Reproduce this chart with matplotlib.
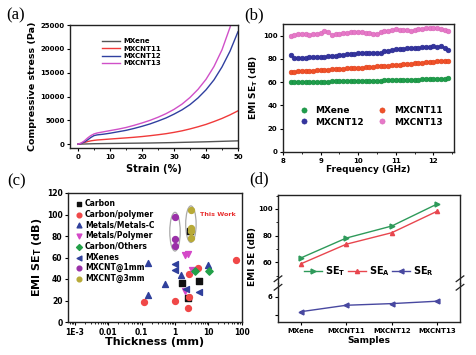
import numpy as np
import matplotlib
matplotlib.use('Agg')
import matplotlib.pyplot as plt
from matplotlib.patches import Ellipse

plt.rcParams['font.family'] = ['DejaVu Sans']
plt.rcParams['font.weight'] = 'bold'
plt.rcParams['axes.linewidth'] = 1.0
plt.rcParams['axes.edgecolor'] = '#222222'

# ---------------- data (a) ----------------
strain = [0, 1, 2, 3, 4, 5, 6, 8, 10, 12.5, 15, 17.5, 20, 22.5, 25, 27.5, 30, 32.5, 35, 37.5, 40, 42.5, 45, 47.5, 50]
mxene_a = [0, 20, 40, 60, 80, 100, 110, 130, 150, 170, 190, 210, 230, 250, 280, 310, 340, 380, 420, 460, 500, 550, 600, 650, 700]
mxcnt11_a = [0, 150, 350, 550, 700, 800, 880, 980, 1080, 1200, 1320, 1450, 1600, 1780, 1980, 2200, 2480, 2800, 3200, 3650, 4150, 4750, 5400, 6150, 7000]
mxcnt12_a = [0, 150, 450, 900, 1400, 1800, 1950, 2100, 2300, 2600, 2900, 3300, 3750, 4250, 4850, 5500, 6300, 7200, 8300, 9700, 11400, 13500, 16200, 19500, 23600]
mxcnt13_a = [0, 250, 700, 1300, 1800, 2150, 2350, 2600, 2850, 3150, 3500, 3950, 4450, 5000, 5650, 6400, 7300, 8400, 9800, 11500, 13600, 16300, 19800, 24500, 30000]

# ---------------- data (b) ----------------
freq = [8.2, 8.3, 8.4, 8.5, 8.6, 8.7, 8.8, 8.9, 9.0, 9.1, 9.2, 9.3, 9.4, 9.5, 9.6, 9.7, 9.8, 9.9, 10.0, 10.1, 10.2,
        10.3, 10.4, 10.5, 10.6, 10.7, 10.8, 10.9, 11.0, 11.1, 11.2, 11.3, 11.4, 11.5, 11.6, 11.7, 11.8, 11.9, 12.0,
        12.1, 12.2, 12.3, 12.4]
mxene_b = [59.8, 59.9, 60.0, 60.0, 60.1, 60.2, 60.2, 60.3, 60.4, 60.4, 60.5, 60.6, 60.6, 60.7, 60.8, 60.8, 60.9, 61.0,
           61.0, 61.1, 61.2, 61.2, 61.3, 61.4, 61.4, 61.5, 61.6, 61.7, 61.7, 61.8, 61.9, 62.0, 62.1, 62.2, 62.3, 62.4,
           62.5, 62.6, 62.7, 62.8, 63.0, 63.1, 63.3]
mxcnt11_b = [68.8, 69.0, 69.2, 69.4, 69.6, 69.8, 70.0, 70.2, 70.4, 70.6, 70.8, 71.0, 71.2, 71.4, 71.6, 71.8, 72.0, 72.2,
             72.4, 72.6, 72.8, 73.0, 73.2, 73.5, 73.8, 74.0, 74.3, 74.5, 74.8, 75.0, 75.3, 75.6, 75.9, 76.2, 76.5,
             76.8, 77.1, 77.3, 77.6, 77.8, 78.0, 78.2, 78.5]
mxcnt12_b = [83.5, 81.0, 80.8, 81.2, 81.0, 81.5, 81.8, 81.5, 82.0, 81.8, 82.2, 82.5, 82.8, 83.0, 83.2, 83.8, 84.2, 84.5,
             85.0, 85.3, 85.5, 85.0, 85.2, 84.8, 85.5, 86.5, 87.2, 87.8, 88.2, 88.5, 88.8, 89.2, 89.0, 89.5, 89.8,
             90.0, 90.2, 90.5, 91.5, 90.5, 91.0, 89.5, 87.5]
mxcnt13_b = [100.0, 100.8, 101.5, 101.8, 101.0, 100.5, 101.2, 101.8, 102.5, 104.0, 103.0, 100.5, 101.0, 101.8, 102.0,
             102.5, 103.0, 103.5, 103.2, 102.8, 102.5, 102.0, 101.5, 101.2, 103.0, 103.8, 104.2, 104.8, 105.5, 105.0,
             104.8, 104.5, 104.0, 104.5, 105.5, 105.8, 106.2, 106.5, 106.5, 106.2, 105.8, 105.0, 104.0]

# ---------------- data (c) ----------------
carbon_t = [2.8, 1.6, 5.1, 2.5]
carbon_se = [85, 36, 38, 22]
cpoly_t = [0.12, 1.0, 2.4, 2.6, 2.6, 4.8, 66]
cpoly_se = [18.5, 20, 13, 23, 45, 50, 57.7]
metal_t = [0.15, 0.15, 0.5, 1.5, 10]
metal_se = [55, 25.5, 35, 44, 52.7]
mpoly_t = [2.0, 2.4, 2.0, 3.2]
mpoly_se = [62, 63.6, 29, 48]
cothers_t = [4.1, 10.5]
cothers_se = [47, 47]
mxenes_t = [1.0, 1.0, 2.1, 5.1]
mxenes_se = [54, 48.5, 31, 27.6]
mx1_t = [1.0, 1.0, 1.0]
mx1_se = [97.5, 76.8, 70.8]
mx3_t = [3.0, 3.0, 3.0, 3.0]
mx3_se = [104.5, 87, 85, 78.5]

# ---------------- data (d) ----------------
samples = ['MXene', 'MXCNT11', 'MXCNT12', 'MXCNT13']
se_t = [63.3, 78.2, 87.2, 103.7]
se_a = [58.9, 73.6, 82.2, 98.3]
se_r = [5.2, 5.55, 5.64, 5.77]

W, H = 476, 355
fig = plt.figure(figsize=(W / 100, H / 100), dpi=100)


def box(l, t, r, b):
    return [l / W, 1 - b / H, (r - l) / W, (b - t) / H]


def style(ax, size=5):
    ax.tick_params(labelsize=size, width=0.8, length=2.5, pad=1.5)
    ax.tick_params(which='minor', width=0.6, length=1.5)
    for lab in ax.get_xticklabels() + ax.get_yticklabels():
        lab.set_fontweight('bold')


plab = dict(fontsize=12, family='Liberation Serif', fontweight='normal', va='top')

# ---------------- (a) ----------------
ax1 = fig.add_axes(box(70, 25, 238, 148))
ax1.plot(strain, mxene_a, color='#555555', lw=1.0, label='MXene')
ax1.plot(strain, mxcnt11_a, color='#f03a3a', lw=1.0, label='MXCNT11')
ax1.plot(strain, mxcnt12_a, color='#3040a0', lw=1.0, label='MXCNT12')
ax1.plot(strain, mxcnt13_a, color='#d050c8', lw=1.0, label='MXCNT13')
ax1.set_xlim(-2.5, 50)
ax1.set_ylim(-800, 25000)
ax1.set_xticks([0, 10, 20, 30, 40, 50])
ax1.set_xticks([5, 15, 25, 35, 45], minor=True)
ax1.set_yticks([0, 5000, 10000, 15000, 20000, 25000])
ax1.set_xlabel('Strain (%)', fontsize=7, fontweight='bold', labelpad=3)
ax1.set_ylabel('Compressive stress (Pa)', fontsize=6.8, fontweight='bold', labelpad=2)
style(ax1)
leg = ax1.legend(loc='upper left', bbox_to_anchor=(0.17, 0.92), frameon=False, fontsize=5,
                 handlelength=2.6, handletextpad=0.5, labelspacing=0.2, borderpad=0)
for t in leg.get_texts():
    t.set_fontweight('bold')
fig.text(6 / W, 1 - 7 / H, '(a)', **plab)

# ---------------- (b) ----------------
ax2 = fig.add_axes(box(283, 24, 454, 152))
ms = 3.4
p1, = ax2.plot(freq, mxene_b, 'o', color='#1f9e4c', ms=ms, mec='#138a3a', mew=0.4, label='MXene')
p2, = ax2.plot(freq, mxcnt11_b, 'o', color='#f0522a', ms=ms, mec='#e0401a', mew=0.4, label='MXCNT11')
p3, = ax2.plot(freq, mxcnt12_b, 'o', color='#35359e', ms=ms, mec='#25258e', mew=0.4, label='MXCNT12')
p4, = ax2.plot(freq, mxcnt13_b, 'o', color='#e678c8', ms=ms, mec='#d868b8', mew=0.4, label='MXCNT13')
ax2.set_xlim(8, 12.55)
ax2.set_ylim(0, 110)
ax2.set_xticks([8, 9, 10, 11, 12])
ax2.set_xticks([8.5, 9.5, 10.5, 11.5, 12.5], minor=True)
ax2.set_yticks([0, 20, 40, 60, 80, 100])
ax2.set_xlabel('Frequency (GHz)', fontsize=6.5, fontweight='bold', labelpad=1)
ax2.set_ylabel('EMI SE$_\\mathbf{T}$ (dB)', fontsize=6.5, fontweight='bold', labelpad=2)
style(ax2)
leg = ax2.legend(handles=[p1, p3, p2, p4], loc='center', bbox_to_anchor=(0.5, 0.28), ncol=2,
                 frameon=False, fontsize=6.5, handletextpad=0.3, columnspacing=1.0, labelspacing=0.3,
                 markerscale=1.1)
for t in leg.get_texts():
    t.set_fontweight('bold')
fig.text(244 / W, 1 - 7 / H, '(b)', **plab)

# ---------------- (c) ----------------
ax3 = fig.add_axes(box(68, 193, 242, 322))
ax3.set_xscale('log')
s = 14
ax3.scatter(carbon_t, carbon_se, marker='s', s=s, color='#111111', label='Carbon', zorder=3)
ax3.scatter(cpoly_t, cpoly_se, marker='o', s=s + 4, color='#f04848', label='Carbon/polymer', zorder=3)
ax3.scatter(metal_t, metal_se, marker='^', s=s + 4, color='#30409c', label='Metals/Metals-C', zorder=3)
ax3.scatter(mpoly_t, mpoly_se, marker='v', s=s + 4, color='#d448c8', label='Metals/Polymer', zorder=3)
ax3.scatter(cothers_t, cothers_se, marker='D', s=s, color='#22a048', label='Carbon/Others', zorder=3)
ax3.scatter(mxenes_t, mxenes_se, marker='<', s=s + 4, color='#30409c', label='MXenes', zorder=3)
ax3.scatter(mx1_t, mx1_se, marker='o', s=s + 4, color='#9a30a8', label='MXCNT@1mm', zorder=3)
ax3.scatter(mx3_t, mx3_se, marker='o', s=s + 4, color='#b8aa38', label='MXCNT@3mm', zorder=3)
ax3.set_xlim(10 ** -3.21, 10 ** 2.01)
ax3.set_ylim(0, 120)
ax3.set_xticks([1e-3, 1e-2, 1e-1, 1, 10, 100])
ax3.set_xticklabels(['1E-3', '0.01', '0.1', '1', '10', '100'])
ax3.set_yticks([0, 20, 40, 60, 80, 100, 120])
ax3.set_xlabel('Thickness (mm)', fontsize=8, fontweight='bold', labelpad=0)
ax3.set_ylabel('EMI SE$_\\mathbf{T}$ (dB)', fontsize=8, fontweight='bold', labelpad=2)
style(ax3, 5.5)
leg = ax3.legend(loc='upper left', bbox_to_anchor=(0.0, 1.0), frameon=False, fontsize=5.5,
                 handletextpad=0.2, labelspacing=0.22, borderpad=0.3, handlelength=1.2, markerscale=0.8)
for t in leg.get_texts():
    t.set_fontweight('bold')
# ellipses round the two MXCNT groups (drawn in axes coordinates)
to_ax = ax3.transData + ax3.transAxes.inverted()
for xc, lo, hi in [(1.0, 66, 102), (3.0, 74, 108)]:
    (cx, cy0), = to_ax.transform([(xc, lo)])
    (_, cy1), = to_ax.transform([(xc, hi)])
    ax3.add_patch(Ellipse((cx, (cy0 + cy1) / 2), 0.06, cy1 - cy0, transform=ax3.transAxes,
                          fill=False, ec='#aaaaaa', lw=0.9, zorder=2))
ax3.text(5.6, 100, 'This Work', color='#e83030', fontsize=4.6, fontweight='bold', ha='left', va='center')
fig.text(7 / W, 1 - 173 / H, '(c)', **plab)

# ---------------- (d) ----------------
x = np.arange(len(samples))
ax4 = fig.add_axes(box(278, 195, 460, 283))
ax5 = fig.add_axes(box(278, 283, 460, 322))
l1, = ax4.plot(x, se_t, '->', color='#2e9a5a', ms=3.5, lw=1.0, label='SE$_\\mathbf{T}$')
l2, = ax4.plot(x, se_a, '-^', color='#e8464e', ms=3, lw=1.0, label='SE$_\\mathbf{A}$')
l3, = ax5.plot(x, se_r, '-<', color='#4848a0', ms=3.5, lw=1.0, label='SE$_\\mathbf{R}$')
ax4.set_xlim(-0.5, 3.5)
ax5.set_xlim(-0.5, 3.5)
ax4.set_ylim(44.6, 110.4)
ax5.set_ylim(4.64, 6.76)
ax4.set_yticks([60, 80, 100])
ax4.set_yticks([50, 70, 90, 110], minor=True)
ax5.set_yticks([5, 6])
ax5.set_yticklabels(['', '6'])
ax4.set_xticks([])
ax4.spines['bottom'].set_visible(False)
ax5.spines['top'].set_visible(False)
ax5.set_xticks(x)
ax5.set_xticklabels(samples)
ax5.set_xlabel('Samples', fontsize=6.5, fontweight='bold', labelpad=2)
style(ax4)
style(ax5)
for a in (ax4, ax5):
    a.patch.set_alpha(0)
fig.text(253 / W, 1 - 257 / H, 'EMI SE (dB)', rotation=90, fontsize=6.5, fontweight='bold',
         ha='center', va='center')
leg = ax4.legend(handles=[l1, l2, l3], loc='lower center', bbox_to_anchor=(0.5, -0.04), ncol=3,
                 frameon=False, fontsize=7, handlelength=1.8, handletextpad=0.3, columnspacing=0.3)
for t in leg.get_texts():
    t.set_fontweight('bold')
# break marks
for xb in (0, 1):
    for dy in (-0.012, 0.012):
        fig.lines.append(plt.Line2D([(278 + 182 * xb) / W - 0.008, (278 + 182 * xb) / W + 0.008],
                                    [1 - 283 / H + dy - 0.008, 1 - 283 / H + dy + 0.008],
                                    transform=fig.transFigure, color='#222222', lw=0.9))
fig.text(249 / W, 1 - 171 / H, '(d)', **plab)

fig.savefig('out.png', dpi=100)
